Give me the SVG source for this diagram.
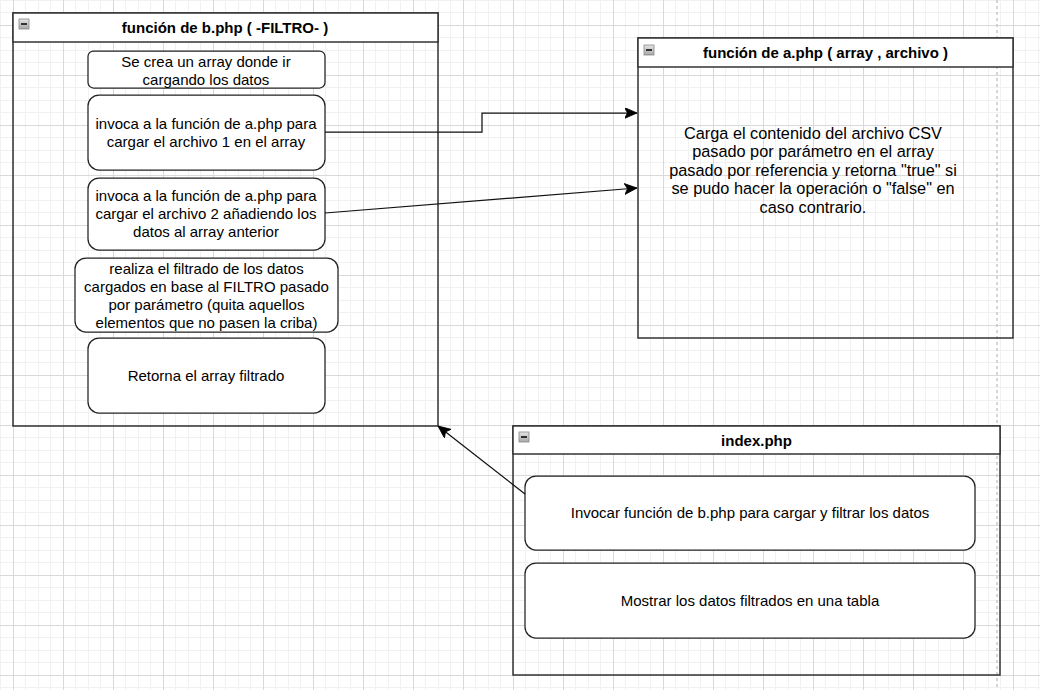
<svg xmlns="http://www.w3.org/2000/svg" width="1040" height="690" viewBox="0 0 1040 690">
<style>
  text { font-family: "Liberation Sans", Arial, Helvetica, sans-serif; font-size: 15px; fill: #000; text-anchor: middle; }
  .title { font-weight: bold; }
  .big { font-size: 16.3px; }
  .lane { fill: none; stroke: #333; stroke-width: 1.5; }
  .head { fill: #fff; stroke: #333; stroke-width: 1.5; }
  .box { fill: #fff; stroke: #222; stroke-width: 1.25; }
  .edge { fill: none; stroke: #111; stroke-width: 1.25; }
  .icon { fill: url(#ig); stroke: #888; stroke-width: 0.8; }
  .minus { stroke: #000; stroke-width: 1.5; }
</style>
<defs>
  <pattern id="grid" patternUnits="userSpaceOnUse" x="13" y="25" width="50" height="50">
    <path d="M12.5,0 V50 M25.5,0 V50 M37.5,0 V50 M0,12.5 H50 M0,25.5 H50 M0,37.5 H50" stroke="#f1f1f1" stroke-width="1" fill="none"/>
    <path d="M0.5,0 V50 M0,0.5 H50" stroke="#d9d9d9" stroke-width="1" fill="none"/>
  </pattern>
  <linearGradient id="ig" x1="0" y1="0" x2="0" y2="1">
    <stop offset="0" stop-color="#e6e6e6"/>
    <stop offset="1" stop-color="#a8a8a8"/>
  </linearGradient>
  <marker id="arr" markerUnits="userSpaceOnUse" markerWidth="15" markerHeight="12" refX="12.5" refY="5.5" orient="auto">
    <path d="M0,0 L12.5,5.5 L0,11 L3,5.5 z" fill="#000" stroke="#000" stroke-width="0.8"/>
  </marker>
</defs>
<rect width="1040" height="690" fill="#fff"/>
<rect width="1040" height="690" fill="url(#grid)"/>
<line x1="997" y1="0" x2="997" y2="690" stroke="#c8c8c8" stroke-width="1.5" stroke-dasharray="3 3"/>

<g id="lane-b">
  <rect class="lane" x="13" y="13" width="425" height="413"/>
  <rect class="head" x="13" y="13" width="425" height="29"/>
  <rect class="icon" x="19" y="19" width="10" height="10"/>
  <line class="minus" x1="21" y1="24" x2="27" y2="24"/>
  <text class="title" x="225" y="33">función de b.php ( -FILTRO- )</text>
</g>
<g id="b1">
  <rect class="box" x="88" y="51" width="237" height="37" rx="5.5"/>
  <text x="206" y="66.5">Se crea un array donde ir</text>
  <text x="206" y="84.5">cargando los datos</text>
</g>
<g id="b2">
  <rect class="box" x="88" y="95" width="237" height="75" rx="11"/>
  <text x="206" y="128.5">invoca a la función de a.php para</text>
  <text x="206" y="146.5">cargar el archivo 1 en el array</text>
</g>
<g id="b3">
  <rect class="box" x="88" y="178" width="237" height="72" rx="11"/>
  <text x="206" y="201">invoca a la función de a.php para</text>
  <text x="206" y="219">cargar el archivo 2 añadiendo los</text>
  <text x="206" y="237">datos al array anterior</text>
</g>
<g id="b4">
  <rect class="box" x="75" y="258" width="263" height="74" rx="11"/>
  <text x="206.5" y="274">realiza el filtrado de los datos</text>
  <text x="206.5" y="292">cargados en base al FILTRO pasado</text>
  <text x="206.5" y="310">por parámetro (quita aquellos</text>
  <text x="206.5" y="328">elementos que no pasen la criba)</text>
</g>
<g id="b5">
  <rect class="box" x="88" y="338" width="237" height="75" rx="11"/>
  <text x="206" y="381">Retorna el array filtrado</text>
</g>

<g id="lane-a">
  <rect class="lane" x="638" y="38" width="375" height="300"/>
  <rect class="head" x="638" y="38" width="375" height="29"/>
  <rect class="icon" x="644" y="45" width="10" height="10"/>
  <line class="minus" x1="646" y1="50" x2="652" y2="50"/>
  <text class="title" x="825.5" y="58">función de a.php ( array , archivo )</text>
  <text class="big" x="813" y="138.5">Carga el contenido del archivo CSV</text>
  <text class="big" x="813" y="157">pasado por parámetro en el array</text>
  <text class="big" x="813" y="175.5">pasado por referencia y retorna "true" si</text>
  <text class="big" x="813" y="194">se pudo hacer la operación o "false" en</text>
  <text class="big" x="813" y="212.5">caso contrario.</text>
</g>

<g id="lane-index">
  <rect class="lane" x="513" y="426" width="487" height="249"/>
  <rect class="head" x="513" y="426" width="487" height="28"/>
  <rect class="icon" x="519" y="432" width="10" height="10"/>
  <line class="minus" x1="521" y1="437" x2="527" y2="437"/>
  <text class="title" x="756.5" y="446">index.php</text>
</g>
<g id="i1">
  <rect class="box" x="525" y="476" width="450" height="74" rx="11"/>
  <text x="750" y="518">Invocar función de b.php para cargar y filtrar los datos</text>
</g>
<g id="i2">
  <rect class="box" x="525" y="563" width="450" height="75" rx="11"/>
  <text x="750" y="606">Mostrar los datos filtrados en una tabla</text>
</g>

<g id="connectors">
  <path class="edge" d="M325,132 H482 V113 H637" marker-end="url(#arr)"/>
  <path class="edge" d="M325,213 L637,188" marker-end="url(#arr)"/>
  <path class="edge" d="M525,494 L438,426" marker-end="url(#arr)"/>
</g>
</svg>
